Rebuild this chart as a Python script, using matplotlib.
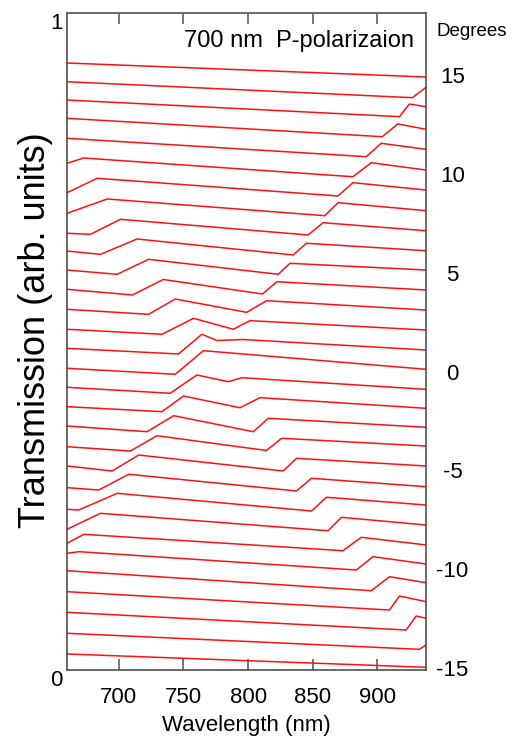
import numpy as np
import matplotlib
matplotlib.use("Agg")
import matplotlib.pyplot as plt

nan = np.nan

# ---------------- data ----------------
angles = list(range(-15, 16))                 # degrees, bottom -> top
edge_wl = [660.0, 937.5]                      # wavelength at left / right frame

start_T = [0.0244, 0.0559, 0.0878, 0.1192, 0.1511, 0.1776, 0.1928, 0.2142,
           0.2446, 0.2775, 0.3105, 0.3399, 0.3714, 0.4008, 0.4303, 0.4592,
           0.4896, 0.5186, 0.5490, 0.5795, 0.6088, 0.6377, 0.6647, 0.6951,
           0.7265, 0.7712, 0.8093, 0.8397, 0.8676, 0.8954, 0.9239]

lo_dip_wl = [nan, nan, nan, nan, nan, nan, nan, nan,
             669.0, 684.6, 694.9, 709.0, 721.9, 733.4, 739.8, 743.7,
             746.2, 733.4, 723.1, 710.6, 698.8, 685.9, 678.2, nan,
             nan, nan, nan, nan, nan, nan, nan]
lo_dip_T = [nan, nan, nan, nan, nan, nan, nan, nan,
            0.2435, 0.2740, 0.3029, 0.3333, 0.3627, 0.3932, 0.4212, 0.4501,
            0.4810, 0.5110, 0.5414, 0.5708, 0.6023, 0.6327, 0.6632, nan,
            nan, nan, nan, nan, nan, nan, nan]

lo_peak_wl = [nan, nan, nan, nan, nan, 669.2, 673.0, 685.9,
              698.8, 707.7, 715.4, 729.6, 742.4, 750.1, 760.4, 765.5,
              764.3, 757.8, 743.7, 734.4, 723.1, 714.2, 701.3, 691.1,
              683.4, 672.8, nan, nan, nan, nan, nan]
lo_peak_T = [nan, nan, nan, nan, nan, 0.1801, 0.2065, 0.2385,
             0.2689, 0.2979, 0.3272, 0.3566, 0.3871, 0.4170, 0.4490, 0.4860,
             0.5110, 0.5353, 0.5647, 0.5944, 0.6251, 0.6560, 0.6860, 0.7169,
             0.7484, 0.7793, nan, nan, nan, nan, nan]

hi_dip_wl = [nan, 932.4, 922.2, 909.3, 895.2, 883.7, 873.3, 861.8,
             849.0, 837.4, 827.1, 814.2, 804.0, 793.8, 784.7, nan,
             775.8, 788.6, 798.9, 811.1, 823.3, 834.8, 846.4, 859.2,
             869.5, 881.0, 891.4, 903.7, 917.0, 927.0, nan]
hi_dip_T = [nan, 0.0315, 0.0609, 0.0913, 0.1207, 0.1522, 0.1816, 0.2120,
            0.2420, 0.2725, 0.3029, 0.3341, 0.3627, 0.3992, 0.4388, nan,
            0.5015, 0.5186, 0.5444, 0.5723, 0.6023, 0.6317, 0.6621, 0.6915,
            0.7215, 0.7508, 0.7813, 0.8117, 0.8422, 0.8711, nan]

hi_peak_wl = [nan, nan, 929.9, 917.0, 909.3, 896.5, 887.5, 872.1,
              860.6, 849.0, 837.4, 825.9, 815.6, 809.2, 795.1, nan,
              796.3, 801.5, 814.3, 822.3, 832.3, 845.1, 857.9, 869.5,
              881.0, 895.2, 902.9, 915.7, 924.7, nan, nan]
hi_peak_T = [nan, nan, 0.0822, 0.1126, 0.1420, 0.1725, 0.2020, 0.2324,
             0.2629, 0.2918, 0.3222, 0.3527, 0.3831, 0.4145, 0.4449, nan,
             0.5030, 0.5317, 0.5621, 0.5910, 0.6190, 0.6495, 0.6808, 0.7113,
             0.7417, 0.7721, 0.8017, 0.8311, 0.8615, nan, nan]

end_T = [0.0041, 0.0381, 0.0787, 0.1040, 0.1329, 0.1613, 0.1903, 0.2207,
         0.2511, 0.2790, 0.3105, 0.3409, 0.3694, 0.3983, 0.4272, 0.4577,
         0.4871, 0.5175, 0.5479, 0.5784, 0.6088, 0.6382, 0.6686, 0.6991,
         0.7306, 0.7610, 0.7925, 0.8230, 0.8574, 0.8869, 0.9026]

x_ticks = [700, 750, 800, 850, 900]
y_ticks = [0, 1]
deg_ticks = [-15, -10, -5, 0, 5, 10, 15]

title_text = "700 nm  P-polarizaion"

# ---------------- figure ----------------
FONT = ["Liberation Sans", "DejaVu Sans"]

fig = plt.figure(figsize=(5.12, 7.41), dpi=100)
W, H = 512.0, 741.0
L, R, T, B = 67, 426, 13, 670
ax = fig.add_axes([L / W, 1 - B / H, (R - L) / W, (B - T) / H])

for i, ang in enumerate(angles):
    xs = [edge_wl[0], lo_dip_wl[i], lo_peak_wl[i], hi_dip_wl[i], hi_peak_wl[i], edge_wl[1]]
    ys = [start_T[i], lo_dip_T[i], lo_peak_T[i], hi_dip_T[i], hi_peak_T[i], end_T[i]]
    pts = [(x, y) for x, y in zip(xs, ys) if not (np.isnan(x) or np.isnan(y))]
    px, py = zip(*pts)
    ax.plot(px, py, color="#ff1010", lw=1.1, solid_joinstyle="round",
            solid_capstyle="round", clip_on=False)

ax.set_xlim(edge_wl[0], edge_wl[1])
ax.set_ylim(0, 1)

frame_col = "#505050"
for s in ax.spines.values():
    s.set_color(frame_col)
    s.set_linewidth(1.2)

ax.set_xticks(x_ticks)
ax.set_xticklabels([str(v) for v in x_ticks], family=FONT, fontsize=16)
ax.tick_params(axis="x", direction="in", length=8, width=1.1, color=frame_col,
               top=True, bottom=True, pad=12)

ax.set_yticks(y_ticks)
ax.set_yticklabels([str(v) for v in y_ticks], family=FONT, fontsize=16)
ax.tick_params(axis="y", length=0, pad=3)
for lab in ax.get_yticklabels():
    lab.set_va("top")

ax.set_xlabel("Wavelength (nm)", family=FONT, fontsize=16, labelpad=5)
ax.set_ylabel("Transmission (arb. units)", family=FONT, fontsize=26)
ax.yaxis.set_label_coords(-0.04, 0.5175)

# right-hand angle scale
ax2 = ax.twinx()
ax2.set_ylim(-15.1, 18.14)
ax2.set_yticks(deg_ticks)
ax2.set_yticklabels([str(v) for v in deg_ticks], family=FONT, fontsize=16)
ax2.tick_params(axis="y", length=0, pad=19)
for lab in ax2.get_yticklabels():
    lab.set_ha("center")
for s in ax2.spines.values():
    s.set_visible(False)

fig.text(184 / W, 1 - 47 / H, title_text, family=FONT, fontsize=17,
         ha="left", va="baseline")
fig.text(436 / W, 1 - 36 / H, "Degrees", family=FONT, fontsize=13.5,
         ha="left", va="baseline")

fig.savefig("out.png", dpi=100)
